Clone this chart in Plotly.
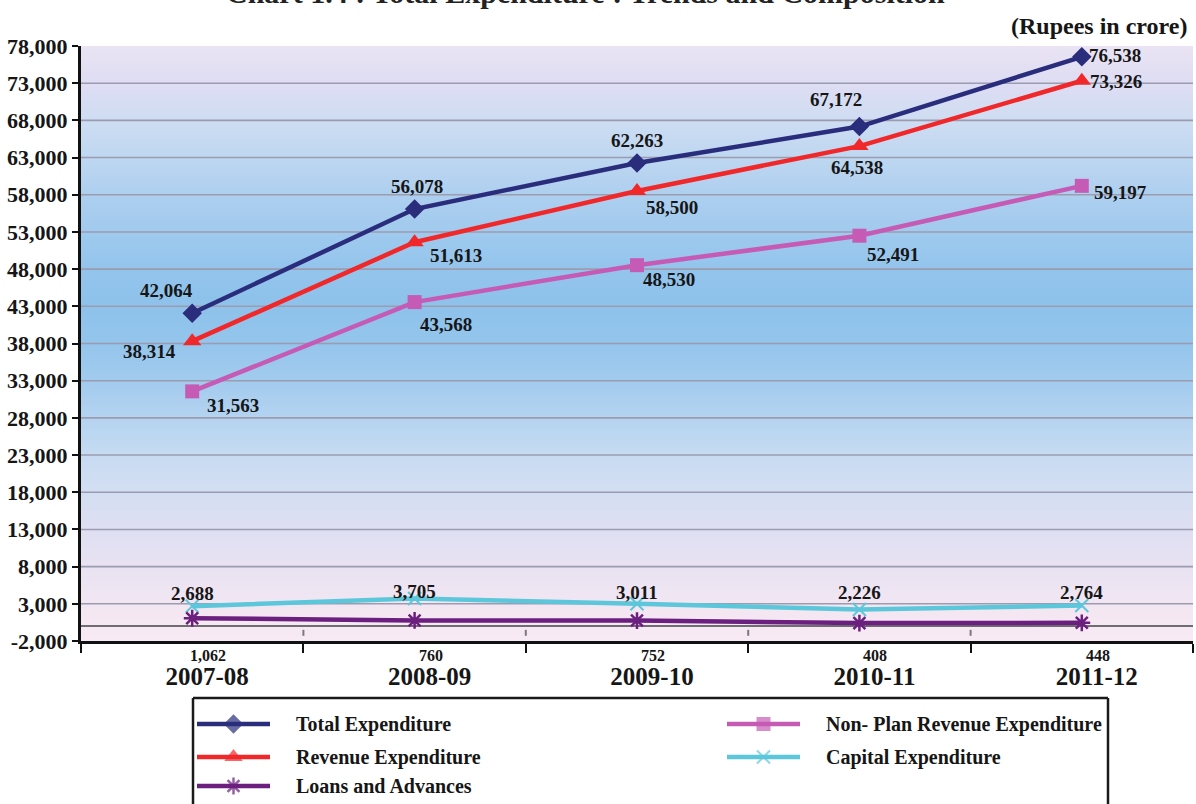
import plotly.graph_objects as go

# ---- data (Rupees in crore) ----
years = ["2007-08", "2008-09", "2009-10", "2010-11", "2011-12"]
total_exp = [42064, 56078, 62263, 67172, 76538]
revenue_exp = [38314, 51613, 58500, 64538, 73326]
non_plan_rev = [31563, 43568, 48530, 52491, 59197]
capital_exp = [2688, 3705, 3011, 2226, 2764]
loans_adv = [1062, 760, 752, 408, 448]
y_ticks = list(range(-2000, 78001, 5000))

W, H = 1196, 804
FONT = "Liberation Serif"
INK = "#161616"

# plot-area placement in pixels
PX_L, PX_R, PX_T, PX_B = 81, 1193, 46, 641

series = [
    dict(name="Total Expenditure", y=total_exp, color="#2A2D7C",
         symbol="diamond", size=15, mline=0),
    dict(name="Revenue Expenditure", y=revenue_exp, color="#F0282A",
         symbol="triangle-up", size=16, mline=0),
    dict(name="Non- Plan Revenue Expenditure", y=non_plan_rev, color="#C65BB6",
         symbol="square", size=14, mline=0),
    dict(name="Capital Expenditure", y=capital_exp, color="#5CC7DA",
         symbol="x-thin", size=13, mline=2),
    dict(name="Loans and Advances", y=loans_adv, color="#6B1F7E",
         symbol="asterisk", size=14, mline=2.5),
]

# label offsets (px) for each point: (xshift, yshift, xanchor)
label_style = {
    "Total Expenditure": [(-26, 23, "center"), (2, 23, "center"), (0, 23, "center"),
                          (-23, 27, "center"), (5, 1, "left")],
    "Revenue Expenditure": [(-43, -10, "center"), (41, -13, "center"), (35, -16, "center"),
                            (-2, -21, "center"), (6, -1, "left")],
    "Non- Plan Revenue Expenditure": [(41, -14, "center"), (31, -22, "center"),
                                      (32, -14, "center"), (34, -19, "center"),
                                      (10, -7, "left")],
    "Capital Expenditure": [(0, 13, "center"), (0, 7, "center"), (0, 11, "center"),
                            (0, 17, "center"), (0, 13, "center")],
}

fig = go.Figure()

for s in series:
    fig.add_trace(go.Scatter(
        x=years, y=s["y"], name=s["name"], mode="lines+markers",
        line=dict(color=s["color"], width=4.5),
        marker=dict(symbol=s["symbol"], size=s["size"], color=s["color"],
                    line=dict(color=s["color"], width=s["mline"])),
        showlegend=False, hoverinfo="x+y+name",
    ))

annotations = []
for s in series:
    if s["name"] in label_style:
        for x, v, (dx, dy, anc) in zip(years, s["y"], label_style[s["name"]]):
            annotations.append(dict(
                x=x, y=v, xref="x", yref="y", text=f"<b>{v:,}</b>", showarrow=False,
                xshift=dx, yshift=dy, xanchor=anc, yanchor="middle",
                font=dict(family=FONT, size=19, color=INK),
            ))

# loans values written just under the category axis
for x, v in zip(years, loans_adv):
    annotations.append(dict(
        x=x, y=1 - 655 / H, xref="x", yref="paper", text=f"<b>{v:,}</b>",
        showarrow=False, xanchor="center", yanchor="middle", xshift=16,
        font=dict(family=FONT, size=16, color=INK),
    ))

# heading (partly cut by the top edge) and unit note
annotations.append(dict(
    x=585 / W, y=1 + 8 / H, xref="paper", yref="paper",
    text="<b>Chart 1.4 : Total Expenditure : Trends and Composition</b>",
    showarrow=False, xanchor="center", yanchor="middle",
    font=dict(family=FONT, size=30, color="#222222"),
))
annotations.append(dict(
    x=1189 / W, y=1 - 26 / H, xref="paper", yref="paper",
    text="<b>(Rupees in crore)</b>", showarrow=False, xanchor="right",
    yanchor="middle", font=dict(family=FONT, size=24, color=INK),
))

# ---- background gradient bands ----
stops = [
    (78000, (234, 227, 243)), (73000, (222, 221, 243)), (68000, (206, 221, 242)),
    (63000, (190, 215, 241)), (58000, (174, 207, 239)), (53000, (160, 202, 238)),
    (48000, (147, 196, 236)), (43000, (142, 194, 235)), (38000, (148, 197, 236)),
    (33000, (162, 203, 238)), (28000, (180, 211, 240)), (23000, (198, 219, 242)),
    (18000, (212, 222, 242)), (13000, (222, 223, 242)), (8000, (232, 226, 242)),
    (3000, (242, 230, 242)), (-2000, (248, 234, 244)),
]


def band_color(v):
    for (v1, c1), (v0, c0) in zip(stops[:-1], stops[1:]):
        if v0 <= v <= v1:
            t = (v - v0) / (v1 - v0)
            r, g, b = (round(c0[i] + (c1[i] - c0[i]) * t) for i in range(3))
            return f"rgb({r},{g},{b})"
    return "rgb(248,234,244)"


shapes = []
step = 500
lo = -2000
while lo < 78000:
    hi = lo + step
    # each band overlaps the next one a little so no seams show
    shapes.append(dict(type="rect", xref="x domain", yref="y", x0=0, x1=1,
                       y0=lo, y1=min(hi + step * 0.6, 78000),
                       fillcolor=band_color((lo + hi) / 2),
                       line=dict(width=0), layer="below"))
    lo = hi

# horizontal grid lines at the inner ticks
for v in y_ticks[1:-1]:
    shapes.append(dict(type="line", xref="x domain", yref="y", x0=0, x1=1,
                       y0=v, y1=v, line=dict(color="#9C9CB0", width=1.6),
                       layer="below"))

# small marks hanging from the zero line at category boundaries
for i in range(len(years) - 1):
    shapes.append(dict(type="line", xref="x", yref="y", x0=i + 0.5, x1=i + 0.5,
                       y0=-500, y1=-1300, line=dict(color="#7A7A7A", width=2),
                       layer="below"))

# ---- legend frame (open at the bottom edge of the page) ----
LEG_L, LEG_R, LEG_T = 193, 1108, 698
frame = dict(xref="paper", yref="paper", type="line",
             line=dict(color="#1a1a1a", width=2.5))
shapes.append(dict(frame, x0=LEG_L / W, x1=LEG_R / W, y0=1 - LEG_T / H, y1=1 - LEG_T / H))
shapes.append(dict(frame, x0=LEG_L / W, x1=LEG_L / W, y0=1 - LEG_T / H, y1=0))
shapes.append(dict(frame, x0=LEG_R / W, x1=LEG_R / W, y0=1 - LEG_T / H, y1=0))

legend_slots = {
    "Total Expenditure": (197, 724),
    "Revenue Expenditure": (197, 757),
    "Loans and Advances": (197, 786),
    "Non- Plan Revenue Expenditure": (727, 724),
    "Capital Expenditure": (727, 757),
}
for s in series:
    lx, ly = legend_slots[s["name"]]
    fig.add_trace(go.Scatter(
        x=[lx, lx + 36.5, lx + 73], y=[ly, ly, ly], xaxis="x2", yaxis="y2",
        mode="lines+markers", line=dict(color=s["color"], width=4.5),
        marker=dict(symbol=s["symbol"], size=[0, s["size"], 0], color=s["color"],
                    line=dict(color=s["color"], width=s["mline"])),
        showlegend=False, hoverinfo="skip",
    ))
    annotations.append(dict(
        x=(lx + 97) / W, y=1 - ly / H, xref="paper", yref="paper",
        text=f"<b>{s['name']}</b>", showarrow=False, xanchor="left",
        yanchor="middle", font=dict(family=FONT, size=20, color=INK),
    ))

fig.update_layout(
    template="none",
    width=W, height=H,
    margin=dict(l=0, r=0, t=0, b=0, pad=0, autoexpand=False),
    paper_bgcolor="white", plot_bgcolor="rgba(0,0,0,0)",
    font=dict(family=FONT, color=INK),
    showlegend=False,
    xaxis=dict(
        type="category", domain=[PX_L / W, PX_R / W], range=[-0.5, 4.5],
        automargin=False, showgrid=False, zeroline=False,
        showline=True, linecolor="#111111", linewidth=3,
        ticks="outside", tickson="boundaries", ticklen=9, tickwidth=2,
        tickcolor="#111111", ticklabelstandoff=11, ticklabelshift=15,
        tickfont=dict(family=FONT, size=25, color=INK),
        tickprefix="<b>", ticksuffix="</b>",
    ),
    yaxis=dict(
        domain=[1 - PX_B / H, 1 - PX_T / H], range=[-2000, 78000],
        automargin=False,
        tickvals=y_ticks, ticktext=[f"<b>{v:,}</b>" for v in y_ticks],
        showgrid=False,
        zeroline=True, zerolinecolor="#6E6E72", zerolinewidth=2,
        showline=True, linecolor="#111111", linewidth=3,
        ticks="outside", ticklen=6, tickwidth=2, tickcolor="#111111",
        tickfont=dict(family=FONT, size=22, color=INK),
    ),
    xaxis2=dict(domain=[0, 1], range=[0, W], visible=False, anchor="y2",
                automargin=False),
    yaxis2=dict(domain=[0, 1], range=[H, 0], visible=False, anchor="x2",
                automargin=False),
    shapes=shapes,
    annotations=annotations,
)

fig.write_html("out.html")
